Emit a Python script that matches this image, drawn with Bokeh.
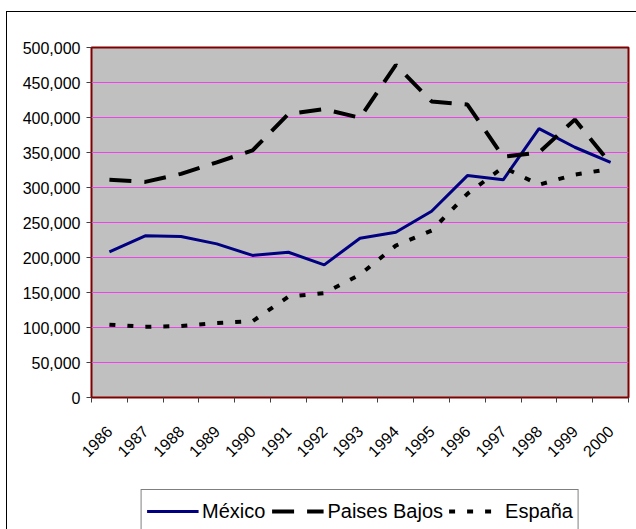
import math
from bokeh.plotting import figure
from bokeh.layouts import column
from bokeh.models import Range1d, FixedTicker, NumeralTickFormatter, Legend, LegendItem
from bokeh.embed import file_html
from bokeh.resources import INLINE

years = [1986, 1987, 1988, 1989, 1990, 1991, 1992, 1993, 1994, 1995, 1996, 1997, 1998, 1999, 2000]
mexico = [208000, 231000, 230000, 219500, 203000, 207500, 189500, 227500, 236000, 266000,
          317000, 311000, 384000, 357500, 336000]
paises_bajos = [311000, 308000, 319500, 336000, 353000, 405000, 412000, 399500, 475000, 423000,
                418500, 344000, 350000, 397000, 334000]
espana = [104000, 101000, 102000, 106500, 109000, 144000, 149000, 175500, 217000, 238500,
          291000, 329000, 304000, 318500, 326500]
y_ticks = [0, 50000, 100000, 150000, 200000, 250000, 300000, 350000, 400000, 450000, 500000]
series_names = ["México", "Paises Bajos", "España"]

FONT = "Liberation Sans"
styles = [dict(line_color="#000080", line_width=3),
          dict(line_color="black", line_width=4, line_dash="22 13"),
          dict(line_color="black", line_width=4, line_dash="6 12")]
series = [mexico, paises_bajos, espana]

# ---- main chart ----
p = figure(width=629, height=476, output_backend="svg", toolbar_location=None,
           x_range=Range1d(years[0] - 0.5, years[-1] + 0.5),
           y_range=Range1d(y_ticks[0], y_ticks[-1]),
           min_border_left=84, min_border_top=35, min_border_right=8, min_border_bottom=91)

p.background_fill_color = "#C0C0C0"
p.border_fill_color = "white"
p.outline_line_color = "#800000"
p.outline_line_width = 2

p.xgrid.visible = False
p.ygrid.ticker = FixedTicker(ticks=y_ticks[1:-1])
p.ygrid.grid_line_color = "#EE44EE"
p.ygrid.grid_line_width = 1

p.yaxis.ticker = FixedTicker(ticks=y_ticks)
p.yaxis.formatter = NumeralTickFormatter(format="0,0")
p.yaxis.axis_line_color = None
p.yaxis.major_tick_out = 5
p.yaxis.major_tick_in = 0
p.yaxis.major_tick_line_color = "#404040"
p.yaxis.minor_tick_line_color = None
p.yaxis.major_label_text_font = FONT
p.yaxis.major_label_text_font_size = "16px"
p.yaxis.major_label_text_color = "black"
p.yaxis.major_label_standoff = 6

bounds = [y - 0.5 for y in years] + [years[-1] + 0.5]
p.xaxis.ticker = FixedTicker(ticks=years, minor_ticks=bounds)
p.xaxis.major_label_overrides = {y: str(y) for y in years}
p.xaxis.axis_line_color = None
p.xaxis.major_tick_line_color = None
p.xaxis.minor_tick_line_color = "#404040"
p.xaxis.minor_tick_out = 5
p.xaxis.minor_tick_in = 0
p.xaxis.major_label_orientation = math.pi / 4
p.xaxis.major_label_text_font = FONT
p.xaxis.major_label_text_font_size = "16px"
p.xaxis.major_label_text_color = "black"
p.xaxis.major_label_standoff = 25

for vals, st in zip(series, styles):
    p.line(years, vals, **st)

# ---- legend strip: same series, drawn outside its (empty) view ----
lf = figure(width=629, height=41, output_backend="svg", toolbar_location=None,
            x_axis_type=None, y_axis_type=None,
            x_range=Range1d(0, 1), y_range=Range1d(0, 1),
            min_border_left=84, min_border_right=8, min_border_top=0, min_border_bottom=0)
lf.outline_line_color = None
lf.background_fill_color = "white"
lf.border_fill_color = "white"
proxies = [lf.line(years, vals, **st) for vals, st in zip(series, styles)]

legend = Legend(items=[LegendItem(label=n, renderers=[r]) for n, r in zip(series_names, proxies)],
                location="top_center", orientation="horizontal")
legend.border_line_color = "black"
legend.border_line_width = 1
legend.background_fill_color = "white"
legend.background_fill_alpha = 1
legend.label_text_font = FONT
legend.label_text_font_size = "20px"
legend.label_text_color = "black"
legend.glyph_width = 52
legend.glyph_height = 32
legend.label_height = 32
legend.label_standoff = 4
legend.spacing = 6
legend.padding = 5
legend.margin = 1
lf.add_layout(legend)

layout = column(p, lf, spacing=0)
layout.styles = {"border-left": "1px solid black", "border-top": "1px solid black",
                 "margin-left": "6px", "margin-top": "11px"}

open("out.html", "w").write(file_html(layout, INLINE))
